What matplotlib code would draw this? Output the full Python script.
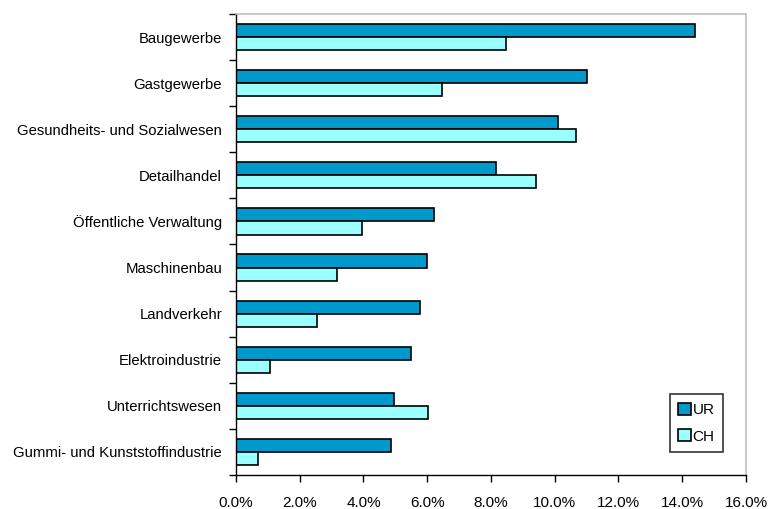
import matplotlib
matplotlib.use("Agg")
import matplotlib.pyplot as plt
import numpy as np
from matplotlib.ticker import FixedLocator, PercentFormatter
from matplotlib.patches import Patch

plt.rcParams['font.family'] = ['Liberation Sans', 'DejaVu Sans']

categories = [
    "Baugewerbe",
    "Gastgewerbe",
    "Gesundheits- und Sozialwesen",
    "Detailhandel",
    "Öffentliche Verwaltung",
    "Maschinenbau",
    "Landverkehr",
    "Elektroindustrie",
    "Unterrichtswesen",
    "Gummi- und Kunststoffindustrie",
]
ur_values = [14.4, 11.0, 10.1, 8.15, 6.2, 6.0, 5.77, 5.49, 4.95, 4.86]
ch_values = [8.47, 6.46, 10.66, 9.4, 3.95, 3.17, 2.54, 1.06, 6.02, 0.7]
series_names = ["UR", "CH"]
x_ticks = [0, 2, 4, 6, 8, 10, 12, 14, 16]

ur_color = "#0099CC"
ch_color = "#99FFFF"

fig = plt.figure(figsize=(7.71, 5.09), dpi=100)
ax = fig.add_axes([0.306, 0.0668, 0.6616, 0.9057])

n = len(categories)
pos = np.arange(n)
h = 0.285
ax.barh(pos - h / 2, ur_values, height=h, color=ur_color, edgecolor="black", linewidth=1.2)
ax.barh(pos + h / 2, ch_values, height=h, color=ch_color, edgecolor="black", linewidth=1.2)

ax.set_ylim(n - 0.5, -0.5)
ax.set_xlim(0, 16)
ax.set_yticks(pos)
ax.set_yticklabels(categories, fontsize=10.7)
ax.tick_params(axis="y", which="major", length=0, pad=10)
ax.yaxis.set_minor_locator(FixedLocator(np.arange(-0.5, n, 1.0)))
ax.tick_params(axis="y", which="minor", length=5, width=1, direction="out")

ax.set_xticks(x_ticks)
ax.xaxis.set_major_formatter(PercentFormatter(decimals=1))
ax.tick_params(axis="x", length=5, width=1, direction="out", labelsize=11, pad=10)

for side in ("top", "right"):
    ax.spines[side].set_color("#BFBFBF")
    ax.spines[side].set_linewidth(1.2)
for side in ("left", "bottom"):
    ax.spines[side].set_color("black")
    ax.spines[side].set_linewidth(1.0)

handles = [Patch(facecolor=ur_color, edgecolor="black", linewidth=1.2, label=series_names[0]),
           Patch(facecolor=ch_color, edgecolor="black", linewidth=1.2, label=series_names[1])]
leg = ax.legend(handles=handles, loc="lower right", bbox_to_anchor=(723 / 771, 57 / 509),
                bbox_transform=fig.transFigure,
                fontsize=11, frameon=True, fancybox=False, handlelength=0.85,
                handleheight=0.85, handletextpad=0.1, labelspacing=0.8,
                borderpad=0.55, borderaxespad=0)
leg.get_frame().set_edgecolor("black")
leg.get_frame().set_linewidth(1.2)

fig.savefig("out.png", dpi=100)
